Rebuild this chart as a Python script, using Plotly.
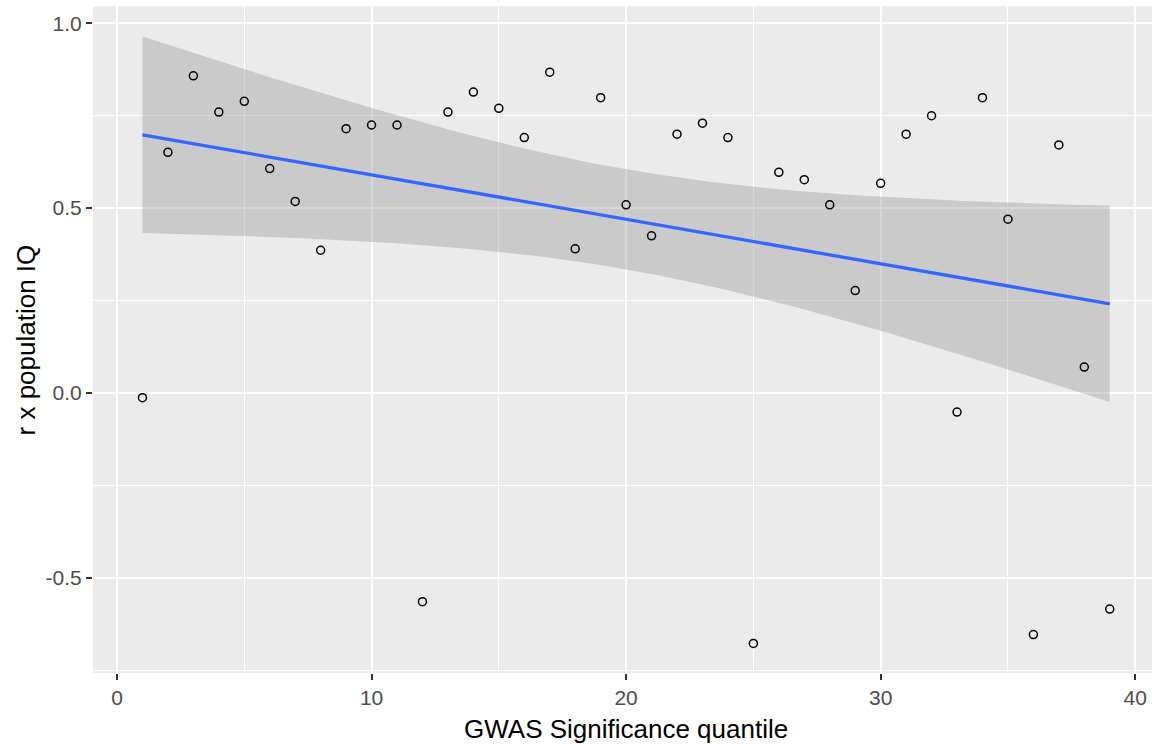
import numpy as np
import plotly.graph_objects as go

# Data
quantile = list(range(1, 40))
r_iq = [-0.013, 0.651, 0.858, 0.760, 0.789, 0.607, 0.518, 0.386, 0.715, 0.725,
        0.725, -0.565, 0.760, 0.814, 0.770, 0.691, 0.868, 0.390, 0.799, 0.509,
        0.425, 0.700, 0.730, 0.691, -0.678, 0.597, 0.577, 0.509, 0.277, 0.567,
        0.700, 0.750, -0.052, 0.799, 0.470, -0.654, 0.671, 0.070, -0.585]

x_tick_vals = [0, 10, 20, 30, 40]
x_tick_text = ["0", "10", "20", "30", "40"]
y_tick_vals = [-0.5, 0.0, 0.5, 1.0]
y_tick_text = ["-0.5", "0.0", "0.5", "1.0"]

# Linear model fit (geom_smooth(method="lm")) with 95% confidence band
T_975 = 2.0262  # t quantile, df = n - 2 = 37
x = np.array(quantile, dtype=float)
y = np.array(r_iq, dtype=float)
n = len(x)
slope, intercept = np.polyfit(x, y, 1)
resid = y - (intercept + slope * x)
s = np.sqrt(np.sum(resid ** 2) / (n - 2))
xs = np.linspace(x.min(), x.max(), 80)
fit = intercept + slope * xs
se = s * np.sqrt(1.0 / n + (xs - x.mean()) ** 2 / np.sum((x - x.mean()) ** 2))
upper = fit + T_975 * se
lower = fit - T_975 * se

fig = go.Figure()
fig.add_trace(go.Scatter(
    x=np.concatenate([xs, xs[::-1]]), y=np.concatenate([upper, lower[::-1]]),
    fill="toself", fillcolor="rgba(153,153,153,0.4)", line=dict(width=0),
    mode="lines", hoverinfo="skip", showlegend=False))
fig.add_trace(go.Scatter(
    x=xs, y=fit, mode="lines", line=dict(color="#3366FF", width=3.3),
    showlegend=False))
fig.add_trace(go.Scatter(
    x=quantile, y=r_iq, mode="markers",
    marker=dict(symbol="circle-open", size=8, color="#000000", line=dict(width=1.5, color="#000000")),
    showlegend=False))

FONT = "Liberation Sans, Arial, sans-serif"
fig.update_layout(
    width=1152, height=744,
    margin=dict(l=93, r=0, t=6, b=71, autoexpand=False),
    paper_bgcolor="white", plot_bgcolor="#EBEBEB",
    font=dict(family=FONT),
    showlegend=False,
    xaxis=dict(
        range=[-0.943, 40.66], tickmode="array", tickvals=x_tick_vals, ticktext=x_tick_text,
        showgrid=True, gridcolor="white", gridwidth=1.6, zeroline=False,
        ticks="outside", ticklen=6, tickwidth=1.6, tickcolor="#333333",
        tickfont=dict(size=21, color="#4D4D4D", family=FONT),
        minor=dict(tickvals=[5, 15, 25, 35], showgrid=True, gridcolor="white", gridwidth=0.8, ticks=""),
        showline=False,
    ),
    yaxis=dict(
        range=[-0.758, 1.047], tickmode="array", tickvals=y_tick_vals, ticktext=y_tick_text,
        showgrid=True, gridcolor="white", gridwidth=1.6, zeroline=False,
        ticks="outside", ticklen=6, tickwidth=1.6, tickcolor="#333333",
        tickfont=dict(size=21, color="#4D4D4D", family=FONT),
        minor=dict(tickvals=[-0.75, -0.25, 0.25, 0.75], showgrid=True, gridcolor="white", gridwidth=0.8, ticks=""),
        showline=False,
    ),
    annotations=[
        dict(text="GWAS Significance quantile", xref="paper", yref="paper",
             x=0.5033, y=-0.084, xanchor="center", yanchor="middle", showarrow=False,
             font=dict(size=26, color="#000000", family=FONT)),
        dict(text="r x population IQ", xref="paper", yref="paper",
             x=-0.0633, y=0.5, xanchor="center", yanchor="middle", showarrow=False, textangle=-90,
             font=dict(size=26, color="#000000", family=FONT)),
    ],
)

fig.write_html("out.html", config={"displayModeBar": False},
               post_script="document.body.style.margin='0';document.body.style.padding='0';")
